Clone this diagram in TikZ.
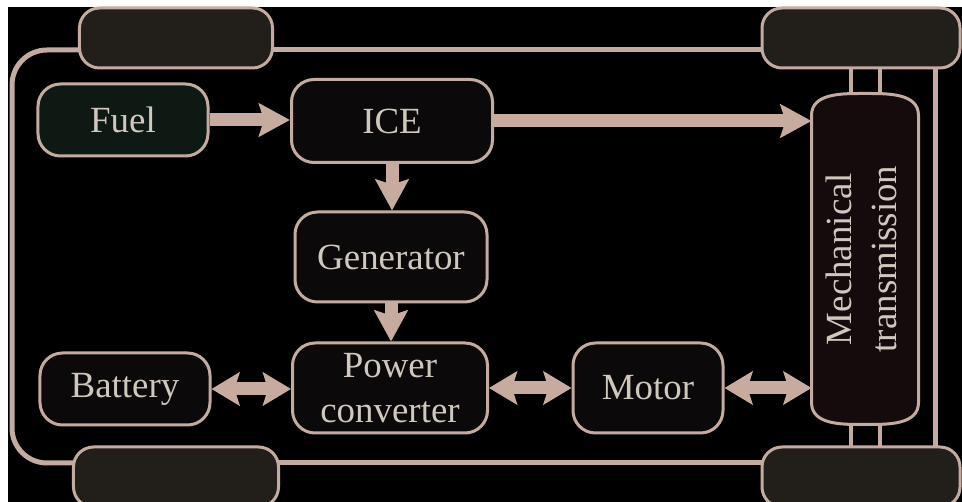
\documentclass[tikz,border=0pt]{standalone}
\usepackage{fontspec}
\setmainfont{Liberation Serif}
\usetikzlibrary{arrows.meta,backgrounds}

\definecolor{edgec}{HTML}{C4ABA0}
\definecolor{arrowc}{HTML}{C8AB9F}
\definecolor{textc}{HTML}{D0C7BE}
\definecolor{boxfill}{HTML}{0B0909}
\definecolor{fuelfill}{HTML}{0E1914}
\definecolor{wheelfill}{HTML}{221E1A}
\definecolor{mtfill}{HTML}{140C0C}

\tikzset{
  box/.style={draw=edgec, line width=0.6mm, rounded corners=4.5mm, fill=boxfill,
    text=textc, font=\fontsize{21}{25.8}\selectfont, align=center, inner sep=0pt},
  wheel/.style={draw=edgec, line width=0.6mm, rounded corners=4mm, fill=wheelfill,
    minimum height=12mm},
  flow/.style={draw=arrowc, line width=2.6mm, -{Stealth[length=6.2mm,width=6.6mm,inset=1mm]}},
  biflow/.style={flow, {Stealth[length=5.6mm,width=6.6mm,inset=1mm]}-{Stealth[length=5.6mm,width=6.6mm,inset=1mm]}},
  chassis/.style={draw=edgec, line width=1mm},
  axle/.style={draw=edgec, line width=0.8mm}
}

\begin{document}
\begin{tikzpicture}[x=0.2mm, y=-0.2mm]
\useasboundingbox (0,0) rectangle (962,502);

% wheels
\node[wheel, minimum width=38.6mm] (wtl) at (176,38) {};
\node[wheel, minimum width=39.6mm] (wtr) at (861,38) {};
\node[wheel, minimum width=41mm]   (wbl) at (176,477) {};
\node[wheel, minimum width=39.6mm] (wbr) at (861,477) {};

% blocks
\node[box, fill=fuelfill, minimum width=34mm, minimum height=14.4mm] (fuel) at (123,120) {Fuel};
\node[box, minimum width=40.2mm, minimum height=16.6mm] (ice) at (392,121) {ICE};
\node[box, minimum width=38.4mm, minimum height=18mm] (gen) at (391,257) {Generator};
\node[box, minimum width=39mm, minimum height=18mm] (conv) at (390,388) {Power\\converter};
\node[box, minimum width=34mm, minimum height=14.4mm] (bat) at (125,389) {Battery};
\node[box, minimum width=30mm, minimum height=18mm] (motor) at (648,388) {Motor};
\node[box, draw=none, fill=none, minimum width=20.8mm, minimum height=65.6mm] (mt) at (865,259)
  {\rotatebox{90}{\begin{tabular}{@{}c@{}}Mechanical\\transmission\end{tabular}}};

\begin{scope}[on background layer]
\fill[black] (8,7) rectangle (962,502);
% chassis
\draw[chassis, rounded corners=7mm] (wtl.center |- 0,50) -- (12,50) -- (12,463) -- (wbl.center |- 0,463);
\draw[chassis] (wtl.center |- 0,50) -- (wtr.center |- 0,50);
\draw[chassis] (wbl.center |- 0,463) -- (wbr.center |- 0,463);
\draw[chassis] (wtr.center -| 935,0) -- (wbr.center -| 935,0);
% axles
\draw[axle] (wtr.center -| 851,0) -- (wbr.center -| 851,0);
\draw[axle] (wtr.center -| 880,0) -- (wbr.center -| 880,0);
% transmission outline
\draw[edgec, line width=0.6mm, fill=mtfill]
  ([yshift=-4.4mm]mt.north west) to[out=90,in=180] (mt.north) to[out=0,in=90] ([yshift=-4.4mm]mt.north east)
  -- ([yshift=4.4mm]mt.south east) to[out=-90,in=0] (mt.south) to[out=180,in=-90] ([yshift=4.4mm]mt.south west) -- cycle;
\end{scope}

% power flow
\draw[flow] (fuel.east) -- (fuel.east -| ice.west);
\draw[flow] (ice.east) -- (ice.east -| mt.west);
\draw[flow] (ice.south) -- (ice.south |- gen.north);
\draw[flow] (gen.south) -- (gen.south |- conv.north);
\draw[biflow] (bat.east) -- (bat.east -| conv.west);
\draw[biflow] (conv.east) -- (conv.east -| motor.west);
\draw[biflow] (motor.east) -- (motor.east -| mt.west);

\end{tikzpicture}
\end{document}
